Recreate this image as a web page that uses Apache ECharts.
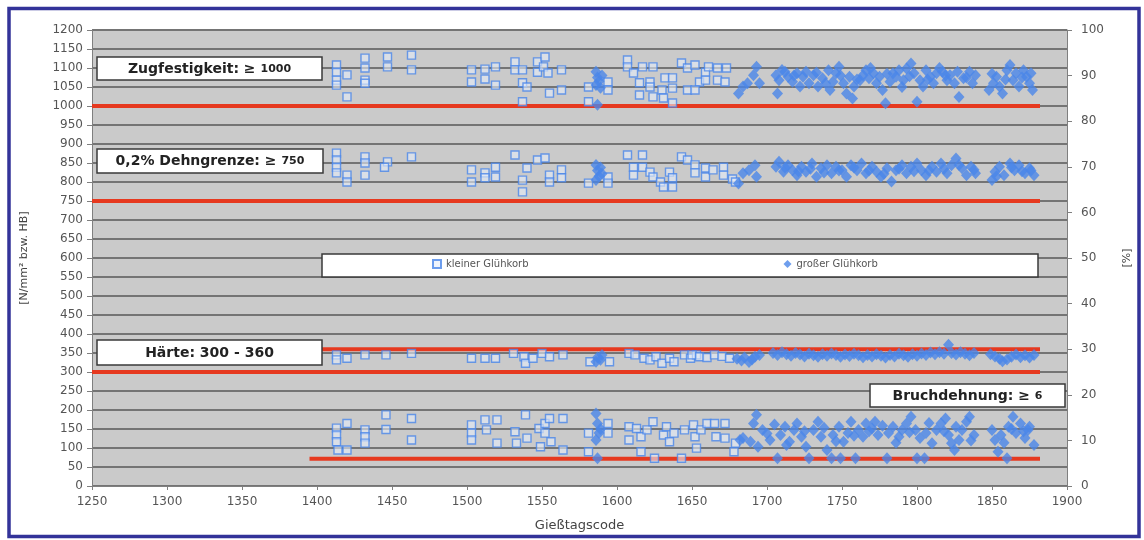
<!DOCTYPE html>
<html>
<head>
<meta charset="utf-8">
<script src="https://cdn.jsdelivr.net/npm/echarts@6/dist/echarts.min.js"></script>
<style>
html,body{margin:0;padding:0;background:#fff;}
#c{width:1144px;height:540px;}
</style>
</head>
<body>
<div id="c"></div>
<script>
// ---------- DATA ----------
const xMin = 1250, xMax = 1900, xStep = 50;
const yLeftMax = 1200, yLeftStep = 50;
const yRightMax = 100, yRightStep = 10;

const seriesNames = ['kleiner Glühkorb', 'großer Glühkorb'];

// limit lines [x, value]
const zugLimit = [[1250, 1000], [1882, 1000]];
const dehnLimit = [[1250, 750], [1882, 750]];
const haerteMin = [[1250, 300], [1882, 300]];
const haerteMax = [[1400, 360], [1882, 360]];
const bruchLimit = [[1395, 6], [1882, 6]];   // % (right axis)

// Zugfestigkeit [N/mm²]
const kleinerZug = [
[1413,1108],[1413,1089],[1413,1068],[1413,1055],[1420,1082],[1420,1024],
[1432,1126],[1432,1100],[1432,1068],[1432,1060],[1447,1129],[1447,1103],
[1463,1134],[1463,1095],[1503,1095],[1503,1063],[1512,1097],[1512,1071],
[1519,1103],[1519,1055],[1532,1116],[1532,1095],[1537,1095],[1537,1061],
[1540,1050],[1547,1116],[1547,1089],[1552,1129],[1551,1103],[1554,1087],
[1563,1095],[1563,1042],[1555,1034],[1537,1011],[1581,1050],[1581,1011],
[1594,1063],[1594,1042],[1607,1121],[1607,1103],[1617,1103],[1624,1103],
[1611,1087],[1615,1061],[1622,1063],[1622,1050],[1615,1029],[1624,1024],
[1632,1074],[1637,1074],[1630,1042],[1637,1047],[1631,1021],[1637,1008],
[1643,1113],[1647,1100],[1652,1108],[1659,1089],[1661,1103],[1667,1100],
[1673,1100],[1655,1063],[1659,1068],[1647,1042],[1652,1042],[1667,1068],[1672,1063]
];
const grosserZug = [
[1586,1090],[1587,1075],[1588,1065],[1586,1055],[1589,1048],[1587,1003],[1590,1080],
[1681,1033],[1684,1051],[1687,1060],[1691,1081],[1693,1103],[1695,1060],
[1706,1081],[1707,1033],[1708,1068],[1712,1090],[1714,1077],[1717,1064],[1720,1086],
[1722,1051],[1724,1077],[1726,1090],[1728,1060],[1731,1081],[1734,1051],[1737,1073],
[1741,1094],[1742,1042],[1744,1064],[1746,1086],[1748,1103],[1751,1060],[1753,1033],
[1755,1077],[1757,1020],[1758,1051],[1762,1068],[1764,1081],[1766,1094],[1768,1073],
[1771,1086],[1773,1060],[1775,1077],[1777,1042],[1779,1007],[1782,1064],[1784,1086],
[1786,1077],[1788,1094],[1791,1068],[1793,1099],[1796,1112],[1798,1086],[1800,1011],
[1802,1068],[1804,1051],[1806,1094],[1809,1077],[1811,1060],[1813,1086],[1817,1090],
[1820,1068],[1822,1081],[1825,1060],[1828,1024],[1831,1073],[1835,1090],[1837,1060],
[1839,1081],[1848,1042],[1851,1060],[1853,1077],[1855,1051],[1857,1033],[1860,1094],
[1862,1108],[1864,1068],[1866,1086],[1868,1051],[1871,1094],[1873,1077],[1875,1060],
[1877,1042],[1876,1086],
[1710,1095],[1718,1080],[1733,1088],[1739,1060],[1749,1080],[1760,1070],[1769,1100],
[1780,1085],[1790,1050],[1795,1078],[1807,1070],[1815,1100],[1819,1080],[1827,1090],
[1833,1075],[1850,1085],[1859,1070],[1870,1075]
];

// 0,2% Dehngrenze [N/mm²]
const kleinerDehn = [
[1413,876],[1413,858],[1413,839],[1413,824],[1420,818],[1420,800],[1432,866],[1432,850],
[1432,818],[1447,853],[1445,839],[1463,866],[1503,832],[1503,800],[1512,824],[1512,811],
[1519,839],[1519,813],[1532,871],[1540,837],[1537,805],[1537,774],[1547,858],[1552,863],
[1555,818],[1555,800],[1563,832],[1563,811],[1581,797],[1594,813],[1594,797],[1607,871],
[1617,871],[1611,839],[1611,818],[1617,839],[1622,826],[1624,813],[1629,800],[1631,787],
[1635,826],[1637,811],[1637,787],[1643,866],[1647,858],[1652,845],[1652,824],[1659,837],
[1659,813],[1664,832],[1671,839],[1671,818],[1677,808],[1679,800]
];
const grosserDehn = [
[1586,845],[1587,830],[1588,815],[1586,805],[1589,838],[1590,822],
[1681,796],[1684,823],[1688,831],[1692,844],[1693,814],
[1706,840],[1708,853],[1711,827],[1714,844],[1717,831],[1720,818],[1723,840],[1726,827],
[1730,849],[1733,814],[1736,836],[1740,844],[1743,823],[1746,840],[1750,831],[1753,814],
[1756,844],[1760,831],[1763,849],[1766,823],[1770,840],[1773,827],[1776,814],[1780,836],
[1783,801],[1786,831],[1790,844],[1793,823],[1796,840],[1800,849],[1803,831],[1806,818],
[1810,840],[1813,827],[1816,849],[1820,823],[1823,844],[1826,862],[1830,836],[1833,818],
[1836,840],[1839,823],[1850,805],[1852,827],[1855,840],[1858,818],[1862,849],[1865,831],
[1868,844],[1872,823],[1875,836],[1878,818],
[1712,838],[1721,828],[1729,835],[1738,825],[1748,830],[1758,838],[1768,830],[1778,822],
[1788,835],[1798,828],[1808,830],[1818,835],[1828,845],[1838,832],[1853,815],[1863,838],
[1870,828],[1876,830]
];

// Härte [HB]
const kleinerHaerte = [
[1413,345],[1413,332],[1420,336],[1432,345],[1446,345],[1463,349],[1503,336],[1512,336],
[1519,336],[1531,349],[1538,340],[1539,323],[1544,336],[1550,349],[1555,340],[1564,345],
[1582,327],[1595,327],[1608,349],[1612,345],[1618,336],[1622,332],[1626,340],[1630,323],
[1635,336],[1638,327],[1645,345],[1649,336],[1653,345],[1650,345],[1655,340],[1660,338],
[1665,345],[1670,341],[1675,336]
];
const grosserHaerte = [
[1586,327],[1590,345],[1589,332],[1587,338],
[1680,335],[1683,330],[1685,338],[1688,326],[1690,333],[1692,340],[1695,345],[1704,350],
[1707,345],[1710,352],[1713,347],[1716,343],[1719,350],[1722,346],[1725,341],[1728,348],
[1731,344],[1734,340],[1737,347],[1740,343],[1743,349],[1746,345],[1749,340],[1752,346],
[1755,342],[1758,348],[1761,344],[1764,339],[1767,345],[1770,341],[1773,347],[1776,343],
[1779,338],[1782,345],[1785,341],[1788,348],[1791,344],[1794,340],[1797,347],[1800,343],
[1803,349],[1806,345],[1809,351],[1812,347],[1815,352],[1818,348],[1821,372],[1823,350],
[1826,346],[1829,352],[1832,348],[1835,344],[1838,350],[1849,347],[1852,341],[1855,335],
[1857,328],[1860,333],[1863,340],[1866,346],[1869,339],[1872,344],[1875,338],[1878,345]
];

// Bruchdehnung [%]
const kleinerBruch = [
[1413,12.7],[1413,11.2],[1413,9.7],[1414,7.9],[1420,13.7],[1420,7.9],[1432,12.3],[1432,10.8],
[1432,9.4],[1446,15.6],[1446,12.4],[1463,14.8],[1463,10.1],[1503,13.4],[1503,11.6],[1503,10.1],
[1512,14.5],[1513,12.3],[1520,14.5],[1520,9.4],[1532,11.9],[1533,9.4],[1539,15.6],[1540,10.5],
[1548,12.6],[1549,8.6],[1552,13.7],[1552,11.6],[1555,14.8],[1556,9.7],[1564,14.8],[1564,7.9],
[1581,11.6],[1581,7.5],[1594,13.7],[1594,11.6],[1608,13.0],[1608,10.1],[1613,12.6],[1616,10.8],
[1616,7.5],[1620,12.3],[1624,14.1],[1625,6.1],[1631,11.2],[1633,13.0],[1635,9.7],[1638,11.6],
[1643,6.1],[1645,12.3],[1651,13.4],[1652,10.8],[1653,8.3],[1656,12.3],[1660,13.7],[1665,13.7],
[1666,10.8],[1672,13.7],[1672,10.5],[1679,9.4],[1678,7.5]
];
const grosserBruch = [
[1586,15.9],[1587,13.7],[1588,11.6],[1586,10.1],[1587,6.1],[1589,12.5],
[1682,10.1],[1684,10.5],[1689,9.7],[1691,13.7],[1693,15.6],[1694,8.6],
[1697,12.3],[1702,10.1],[1707,6.1],[1709,11.2],[1712,13.0],[1715,9.7],[1718,12.3],[1720,13.7],
[1723,10.8],[1726,8.6],[1728,6.1],[1731,12.3],[1734,14.1],[1736,10.8],[1740,7.9],[1743,6.1],
[1744,11.2],[1748,13.0],[1749,6.1],[1751,9.7],[1754,11.6],[1756,14.1],[1759,6.1],[1761,12.3],
[1764,10.8],[1766,13.7],[1770,12.6],[1772,14.1],[1774,11.2],[1780,6.1],[1781,11.6],[1784,13.0],
[1788,10.8],[1790,12.3],[1793,13.7],[1796,15.2],[1799,12.3],[1800,6.1],[1802,10.5],[1805,6.1],
[1806,11.6],[1810,9.4],[1813,12.3],[1816,13.7],[1819,14.8],[1821,11.2],[1823,9.4],[1825,7.9],
[1828,10.1],[1830,12.3],[1833,14.1],[1835,15.2],[1838,11.2],[1850,12.3],[1852,10.1],[1854,7.5],
[1856,11.2],[1860,6.1],[1861,13.0],[1864,15.2],[1866,11.6],[1869,13.7],[1872,10.5],[1874,12.3],
[1878,9.0],[1875,13.0],
[1700,11.5],[1705,13.5],[1713,9.0],[1725,12.0],[1738,12.8],[1746,9.8],[1758,11.0],[1768,12.0],
[1777,13.2],[1786,9.5],[1795,11.8],[1808,13.8],[1818,12.0],[1826,13.0],[1836,10.0],[1858,9.5],
[1863,12.5],[1871,12.0]
];

// ---------- CHART ----------
const chart = echarts.init(document.getElementById('c'), null, {renderer: 'canvas'});
const FONT = 'DejaVu Sans';
const axisGray = '#7f7f7f';
const labelGray = '#555555';
const blue = '#4a86e8';
const red = '#e6391f';
const plain = function (v) { return String(v); };

const squareStyle = {color: 'rgba(228,236,250,0.75)', borderColor: blue, borderWidth: 1.4};
const diamondStyle = {color: blue};

function limitLine(data, yIdx) {
  return {type: 'line', data: data, yAxisIndex: yIdx, symbol: 'none', silent: true,
    lineStyle: {color: red, width: 4}, z: 1, legendHoverLink: false};
}
function scat(name, data, yIdx, sym) {
  return {type: 'scatter', name: name, data: data, yAxisIndex: yIdx,
    symbol: sym === 'rect' ? 'rect' : 'diamond',
    symbolSize: sym === 'rect' ? 8 : [11, 12],
    itemStyle: sym === 'rect' ? squareStyle : diamondStyle, z: 3};
}

function box(x, y, w, h) {
  return {type: 'rect', shape: {x: x, y: y, width: w, height: h}, z: 50,
    style: {fill: '#ffffff', stroke: '#3a3a3a', lineWidth: 1.5}};
}
function label(x, y, text) {
  return {type: 'text', x: x, y: y, z: 51,
    style: {text: text, align: 'center', verticalAlign: 'middle',
      rich: {
        b: {fontFamily: FONT, fontWeight: 'bold', fontSize: 14, fill: '#222'},
        s: {fontFamily: FONT, fontWeight: 'bold', fontSize: 11, fill: '#222'}
      }}};
}

const option = {
  animation: false,
  backgroundColor: '#ffffff',
  grid: {left: 92, right: 77, top: 30, bottom: 54, show: true,
    backgroundColor: '#cacaca', borderWidth: 0, containLabel: false},
  legend: {
    data: [
      {name: seriesNames[0], icon: 'rect'},
      {name: seriesNames[1], icon: 'diamond'}
    ],
    left: 432, top: 259, itemGap: 255, itemWidth: 8, itemHeight: 8, z: 60,
    padding: 0,
    textStyle: {fontFamily: FONT, fontSize: 10, color: labelGray}
  },
  xAxis: {
    type: 'value', min: xMin, max: xMax, interval: xStep,
    name: 'Gießtagscode', nameLocation: 'middle', nameGap: 33,
    nameTextStyle: {fontFamily: FONT, fontSize: 13, color: '#444'},
    axisLine: {show: true, onZero: false, lineStyle: {color: axisGray, width: 1}},
    axisTick: {show: true, length: 4, lineStyle: {color: axisGray}},
    axisLabel: {margin: 10, color: labelGray, fontSize: 12, fontFamily: FONT, formatter: plain},
    splitLine: {show: false}
  },
  yAxis: [
    {
      type: 'value', min: 0, max: yLeftMax, interval: yLeftStep, position: 'left',
      name: '[N/mm² bzw. HB]', nameLocation: 'middle', nameGap: 62, nameRotate: 90,
      nameTextStyle: {fontFamily: FONT, fontSize: 11, color: '#444'},
      axisLine: {show: true, onZero: false, lineStyle: {color: axisGray, width: 1}},
      axisTick: {show: true, length: 5, lineStyle: {color: axisGray}},
      axisLabel: {margin: 9, color: labelGray, fontSize: 12, fontFamily: FONT, formatter: plain},
      splitLine: {show: true, lineStyle: {color: '#747474', width: 2}}
    },
    {
      type: 'value', min: 0, max: yRightMax, interval: yRightStep, position: 'right',
      name: '[%]', nameLocation: 'middle', nameGap: 55, nameRotate: 90,
      nameTextStyle: {fontFamily: FONT, fontSize: 11, color: '#444'},
      axisLine: {show: true, onZero: false, lineStyle: {color: axisGray, width: 1}},
      axisTick: {show: true, length: 5, lineStyle: {color: axisGray}},
      axisLabel: {margin: 14, color: labelGray, fontSize: 12, fontFamily: FONT, formatter: plain},
      splitLine: {show: false}
    }
  ],
  graphic: {elements: [
    box(322, 254, 716, 23),
    box(97, 57, 225, 23),
    label(209.5, 69, '{b|Zugfestigkeit: ≥ }{s|1000}'),
    box(97, 149, 226, 24),
    label(210, 161.5, '{b|0,2% Dehngrenze: ≥ }{s|750}'),
    box(97, 340, 225, 25),
    label(209.5, 353, '{b|Härte: 300 - 360}'),
    box(870, 384, 195, 23),
    label(967.5, 396, '{b|Bruchdehnung: ≥ }{s|6}'),
    {type: 'rect', shape: {x: 9, y: 8.5, width: 1130, height: 528}, z: 100, silent: true,
      style: {fill: null, stroke: '#333399', lineWidth: 3.5}}
  ]},
  series: [
    limitLine(zugLimit, 0),
    limitLine(dehnLimit, 0),
    limitLine(haerteMin, 0),
    limitLine(haerteMax, 0),
    limitLine(bruchLimit, 1),
    scat(seriesNames[0], kleinerZug, 0, 'rect'),
    scat(seriesNames[0], kleinerDehn, 0, 'rect'),
    scat(seriesNames[0], kleinerHaerte, 0, 'rect'),
    scat(seriesNames[0], kleinerBruch, 1, 'rect'),
    scat(seriesNames[1], grosserZug, 0, 'diamond'),
    scat(seriesNames[1], grosserDehn, 0, 'diamond'),
    scat(seriesNames[1], grosserHaerte, 0, 'diamond'),
    scat(seriesNames[1], grosserBruch, 1, 'diamond')
  ]
};
chart.setOption(option);
</script>
</body>
</html>
